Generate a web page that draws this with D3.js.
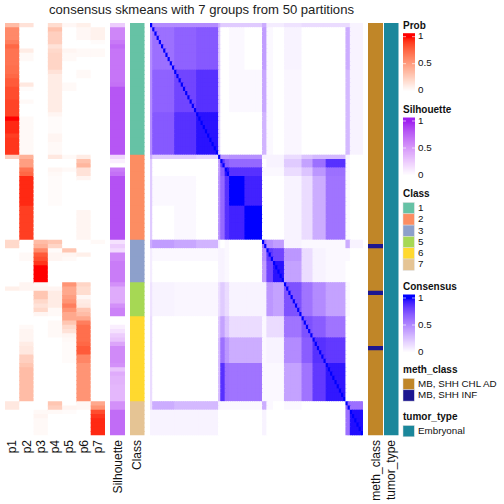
<!DOCTYPE html>
<html><head><meta charset="utf-8">
<script src="https://cdn.jsdelivr.net/npm/d3@7"></script>
<style>body{margin:0;background:#fff}svg{display:block}text{font-family:"Liberation Sans",Arial,sans-serif}</style>
</head><body>
<svg id="c" width="504" height="504"></svg>
<script>
// ---------------- data ----------------
const classNames = ["1","2","3","5","6","7"];
const classSizes = [31,20,10,8,20,8];
const classColors = ["#66C2A5","#FC8D62","#8DA0CB","#A6D854","#FFD92F","#E5C494"];
const probCols = ["p1","p2","p3","p4","p5","p6","p7"];
const p1 = [0.35,0.6,0.6,0.6,0.65,0.75,0.7,0.7,0.7,0.7,0.72,0.72,0.75,0.8,0.8,0.85,0.85,0.85,0.88,0.88,0.88,0.88,1,0.95,0.95,0.95,0.9,0.92,0.92,0.92,0.92,
 0.25,0,0,0,0,0,0,0,0,0,0,0,0,0,0,0,0,0,0,0,
 0.2,0.2,0,0,0,0,0,0,0,0,
 0,0.08,0,0,0,0,0,0,
 0,0,0,0,0,0,0,0,0,0,0,0,0,0,0,0,0,0,0,0,
 0.12,0.12,0,0,0,0,0,0];
const p2 = [0.15,0,0,0,0,0,0.1,0.03,0.03,0,0,0,0,0,0.12,0.02,0,0,0.03,0,0,0,0.03,0.03,0.03,0.03,0.03,0.03,0.03,0.03,0.03,
 0.4,0.5,0.5,0.7,0.75,0.95,0.95,0.95,0.95,0.95,0.95,0.95,0.9,0.9,0.9,0.9,0.9,0.9,0.9,0.9,
 0,0,0,0.03,0.03,0,0,0,0,0,
 0.05,0.05,0,0,0,0,0,0,
 0,0,0.03,0.05,0.05,0.05,0.1,0.12,0.12,0.25,0.25,0.3,0.35,0.35,0.35,0.35,0.35,0.35,0.35,0.35,
 0,0,0,0,0,0,0,0];
const p3 = [0,0,0,0,0,0,0,0,0,0,0,0,0,0,0,0,0,0,0,0,0,0,0,0,0,0,0,0,0,0,0,
 0,0,0,0,0,0,0,0,0,0,0,0,0,0,0,0,0,0,0,0,
 0.35,0.4,0.6,0.8,0.85,0.92,1,1,1,1,
 0.03,0.05,0.3,0.3,0.2,0.15,0.2,0.05,
 0,0,0,0,0,0,0,0,0,0,0,0,0,0,0,0,0,0,0,0,
 0,0,0.03,0.05,0.03,0.03,0.03,0.03];
const p4 = [0.18,0.32,0.25,0.25,0.25,0.15,0.2,0.22,0.22,0.22,0.22,0.15,0.1,0.1,0.1,0.1,0.1,0.1,0.1,0.1,0.1,0.05,0.02,0.02,0.02,0.02,0.05,0.05,0.03,0.03,0.03,
 0.12,0,0,0.05,0.03,0.02,0.02,0.02,0.02,0.02,0.02,0.02,0,0,0,0,0,0,0,0,
 0.3,0.22,0.02,0.05,0.05,0,0,0,0,0,
 0,0.05,0.1,0.1,0.1,0.1,0.03,0.03,
 0,0.03,0.03,0.03,0.03,0,0,0,0,0,0,0,0,0,0,0,0,0,0,0,
 0.3,0.25,0.03,0,0,0,0,0];
const p5 = [0.04,0,0,0,0,0,0.05,0.03,0.03,0,0,0,0,0,0.03,0.03,0,0,0,0,0,0,0,0,0,0,0,0,0,0,0,
 0.03,0,0,0.03,0,0,0,0,0,0,0,0,0,0,0,0,0,0,0,0,
 0,0,0.3,0.05,0.03,0,0,0,0,0,
 0.55,0.45,0.45,0.5,0.55,0.65,0.55,0.45,
 0.45,0.3,0.2,0.15,0.05,0.03,0.02,0.02,0.02,0.02,0.02,0,0,0,0,0,0,0,0,0,
 0,0.05,0.02,0,0,0,0,0];
const p6 = [0.08,0.04,0.04,0.04,0,0,0.03,0.03,0,0,0,0.03,0.03,0,0,0,0,0,0,0,0,0,0,0,0,0,0,0,0,0,0,
 0.1,0.32,0.38,0.15,0.15,0.05,0,0,0,0,0,0,0,0.05,0.05,0.05,0.05,0.05,0.05,0.05,
 0,0,0,0.08,0,0,0,0,0,0,
 0.22,0.18,0.18,0.04,0.1,0.12,0.3,0.35,
 0.45,0.65,0.72,0.72,0.72,0.72,0.75,0.8,0.8,0.62,0.62,0.55,0.55,0.55,0.55,0.55,0.55,0.55,0.55,0.55,
 0.04,0.04,0,0,0,0,0,0];
const p7 = [0,0.07,0.07,0.07,0.02,0,0.03,0.03,0,0,0,0,0,0,0,0,0,0,0,0,0,0,0,0,0,0,0,0,0,0,0,
 0,0,0,0,0,0,0,0,0,0,0,0,0,0,0,0,0,0,0,0,
 0.03,0,0,0,0,0,0,0,0,0,
 0,0,0,0,0,0,0,0,
 0,0,0,0,0,0,0,0,0,0,0,0,0,0,0,0,0,0,0,0,
 0.45,0.55,0.85,0.92,0.95,0.95,0.95,0.95];
const silhouette = [0.25,0.6,0.6,0.6,0.66,0.72,0.68,0.68,0.68,0.68,0.68,0.68,0.68,0.68,0.7,0.82,0.82,0.82,0.82,0.82,0.82,0.82,0.82,0.82,0.82,0.82,0.82,0.82,0.82,0.82,0.82,
 0.2,0.08,0,0.65,0.7,0.84,0.84,0.84,0.84,0.84,0.84,0.84,0.84,0.84,0.84,0.84,0.84,0.84,0.84,0.84,
 0.15,0.25,0.18,0.6,0.6,0.65,0.65,0.65,0.65,0.65,
 0.55,0.42,0.42,0.42,0.42,0.55,0.62,0.62,
 0,0,0.08,0.15,0.25,0.3,0.45,0.58,0.58,0.58,0.58,0.55,0.3,0.42,0.38,0.38,0.36,0.36,0.36,0.36,
 0.55,0.55,0.72,0.72,0.72,0.72,0.72,0.72];
// consensus: samples grouped into segments, segment-by-segment consensus
const segSizes = [1,10,10,10, 1,2,2,7,8, 2,3,5, 8, 5,6,9, 2,6];
const segConsensus = [
 [1.00,0.50,0.50,0.50,0.35,0.22,0.22,0.22,0.22,0.35,0.08,0.08,0.12,0.15,0.15,0.15,0.15,0.05],
 [0.50,0.62,0.68,0.72,0.22,0.00,0.00,0.03,0.00,0.42,0.03,0.00,0.05,0.00,0.00,0.00,0.35,0.05],
 [0.50,0.68,0.80,0.88,0.22,0.00,0.00,0.03,0.03,0.38,0.03,0.00,0.04,0.00,0.00,0.00,0.30,0.05],
 [0.50,0.72,0.88,0.97,0.18,0.00,0.00,0.00,0.00,0.32,0.03,0.00,0.04,0.00,0.00,0.00,0.30,0.05],
 [0.35,0.22,0.22,0.18,1.00,0.45,0.45,0.48,0.48,0.05,0.05,0.05,0.15,0.25,0.30,0.30,0.05,0.00],
 [0.22,0.00,0.00,0.00,0.45,0.85,0.70,0.65,0.65,0.00,0.05,0.05,0.22,0.40,0.62,0.88,0.03,0.00],
 [0.22,0.00,0.00,0.00,0.45,0.70,0.97,0.88,0.88,0.03,0.03,0.03,0.15,0.25,0.45,0.62,0.03,0.00],
 [0.22,0.03,0.03,0.00,0.48,0.65,0.88,1.00,0.93,0.00,0.00,0.00,0.05,0.15,0.35,0.60,0.03,0.00],
 [0.22,0.00,0.03,0.00,0.48,0.65,0.88,0.93,1.00,0.00,0.00,0.00,0.05,0.15,0.35,0.60,0.03,0.00],
 [0.35,0.42,0.38,0.32,0.05,0.00,0.03,0.00,0.00,0.60,0.48,0.42,0.05,0.03,0.03,0.03,0.35,0.05],
 [0.08,0.03,0.03,0.03,0.05,0.05,0.03,0.00,0.00,0.48,0.85,0.80,0.45,0.15,0.05,0.03,0.03,0.00],
 [0.08,0.00,0.00,0.00,0.05,0.05,0.03,0.00,0.00,0.42,0.80,0.97,0.40,0.15,0.05,0.03,0.00,0.00],
 [0.12,0.05,0.04,0.04,0.15,0.22,0.15,0.05,0.05,0.05,0.45,0.40,0.75,0.60,0.50,0.40,0.03,0.00],
 [0.15,0.00,0.00,0.00,0.25,0.40,0.25,0.15,0.15,0.03,0.15,0.15,0.60,0.75,0.70,0.60,0.00,0.00],
 [0.15,0.00,0.00,0.00,0.30,0.62,0.45,0.35,0.35,0.03,0.05,0.05,0.50,0.70,0.88,0.85,0.00,0.00],
 [0.15,0.00,0.00,0.00,0.30,0.88,0.62,0.60,0.60,0.03,0.03,0.03,0.40,0.60,0.85,0.96,0.00,0.00],
 [0.15,0.35,0.30,0.30,0.05,0.03,0.03,0.03,0.03,0.35,0.03,0.00,0.03,0.00,0.00,0.00,0.68,0.62],
 [0.05,0.05,0.05,0.05,0.00,0.00,0.00,0.00,0.00,0.05,0.00,0.00,0.00,0.00,0.00,0.00,0.62,0.98]];
const methLevels = ["MB, SHH CHL AD","MB, SHH INF"];
const methColors = ["#C08628","#1C1690"];
const methInfIdx = [52,63,76];
const tumorLevels = ["Embryonal"];
const tumorColors = ["#1B879B"];
const title = "consensus skmeans with 7 groups from 50 partitions";

// ---------------- colour interpolation in CIE Lab (D65), as colorRamp2 does ----------------
function toLin(c){c/=255;return c<=0.04045?c/12.92:Math.pow((c+0.055)/1.055,2.4);}
function fromLin(c){c=c<=0.0031308?12.92*c:1.055*Math.pow(c,1/2.4)-0.055;return Math.round(255*Math.max(0,Math.min(1,c)));}
const Wn=[0.95047,1,1.08883];
function fL(t){return t>0.008856?Math.cbrt(t):7.787*t+16/116;}
function fInv(t){const t3=t*t*t;return t3>0.008856?t3:(t-16/116)/7.787;}
function rgb2lab(hex){
  const c=d3.rgb(hex);const r=toLin(c.r),g=toLin(c.g),b=toLin(c.b);
  const X=0.4124564*r+0.3575761*g+0.1804375*b, Y=0.2126729*r+0.7151522*g+0.0721750*b, Z=0.0193339*r+0.1191920*g+0.9503041*b;
  const fx=fL(X/Wn[0]),fy=fL(Y/Wn[1]),fz=fL(Z/Wn[2]);
  return [116*fy-16,500*(fx-fy),200*(fy-fz)];
}
function lab2rgb(L,a,b){
  const fy=(L+16)/116,fx=fy+a/500,fz=fy-b/200;
  const X=Wn[0]*fInv(fx),Y=Wn[1]*fInv(fy),Z=Wn[2]*fInv(fz);
  const r=3.2404542*X-1.5371385*Y-0.4985314*Z, g=-0.9692660*X+1.8760108*Y+0.0415560*Z, bb=0.0556434*X-0.2040259*Y+1.0572252*Z;
  return d3.rgb(fromLin(r),fromLin(g),fromLin(bb)).formatHex();
}
function lab65(a,b){const A=rgb2lab(a),B=rgb2lab(b);return t=>lab2rgb(A[0]+(B[0]-A[0])*t,A[1]+(B[1]-A[1])*t,A[2]+(B[2]-A[2])*t);}

// ---------------- build ----------------
const N = d3.sum(classSizes);
const samples = d3.range(N);
const cls = []; classSizes.forEach((s,i)=>{for(let k=0;k<s;k++) cls.push(i);});
const seg = []; segSizes.forEach((s,i)=>{for(let k=0;k<s;k++) seg.push(i);});
const probs = [p1,p2,p3,p4,p5,p6,p7];
const meth = samples.map(i => methInfIdx.includes(i) ? 1 : 0);

const svg = d3.select("#c");
const hmTop = 23, hmBottom = 435.25;
const y = d3.scaleBand().domain(samples).range([hmTop,hmBottom]);
// cell height with overlap into the next row (avoids anti-aliasing seams), clipped at the bottom
const hh = i => Math.min(y.bandwidth()+1, hmBottom - y(i));
const colProb = d3.scaleLinear().domain([0,1]).range(["#ffffff","#ff0000"]).interpolate(lab65).clamp(true);
const colSil = d3.scaleLinear().domain([0,1]).range(["#ffffff","#A020F0"]).interpolate(lab65).clamp(true);
const colCons = d3.scaleLinear().domain([0,1]).range(["#ffffff","#0000ff"]).interpolate(lab65).clamp(true);

// prob heatmap
const xp = d3.scaleBand().domain(probCols).range([5,105]);
probCols.forEach((c,j)=>{
  svg.append("g").selectAll("rect").data(samples).join("rect")
   .attr("x",xp(c)).attr("width",j<6?xp.bandwidth()+1:xp.bandwidth())
   .attr("y",i=>y(i)).attr("height",hh)
   .attr("fill",i=>colProb(probs[j][i]));
});
// silhouette
svg.append("g").selectAll("rect").data(samples).join("rect")
  .attr("x",110).attr("width",15).attr("y",i=>y(i)).attr("height",hh)
  .attr("fill",i=>colSil(silhouette[i]));
// class
svg.append("g").selectAll("rect").data(samples).join("rect")
  .attr("x",130).attr("width",14.5).attr("y",i=>y(i)).attr("height",hh)
  .attr("fill",i=>classColors[cls[i]]);
// consensus
const xc = d3.scaleBand().domain(samples).range([150,363]);
const ww = j => Math.min(xc.bandwidth()+1, 363 - xc(j));
const cells = [];
samples.forEach(i=>samples.forEach(j=>cells.push([i,j])));
svg.append("g").selectAll("rect").data(cells).join("rect")
  .attr("x",d=>xc(d[1])).attr("width",d=>ww(d[1]))
  .attr("y",d=>y(d[0])).attr("height",d=>hh(d[0]))
  .attr("fill",d=>colCons(d[0]===d[1]?1:segConsensus[seg[d[0]]][seg[d[1]]]));
// meth_class
svg.append("g").selectAll("rect").data(samples).join("rect")
  .attr("x",368).attr("width",15).attr("y",i=>y(i)).attr("height",hh)
  .attr("fill",i=>methColors[meth[i]]);
// tumor_type
svg.append("rect").attr("x",384).attr("width",14.5).attr("y",hmTop).attr("height",hmBottom-hmTop).attr("fill",tumorColors[0]);

// title
svg.append("text").attr("x",201.5).attr("y",13.5).attr("text-anchor","middle").attr("font-size",13.1).attr("fill","#222").text(title);

// bottom labels
const botLabels = probCols.map(c=>({t:c,x:xp(c)+xp.bandwidth()/2}))
  .concat([{t:"Silhouette",x:117.5},{t:"Class",x:137},{t:"meth_class",x:375.5},{t:"tumor_type",x:391}]);
svg.append("g").selectAll("text").data(botLabels).join("text")
  .attr("transform",d=>`translate(${d.x+1},440) rotate(-90)`)
  .attr("text-anchor","end").attr("dominant-baseline","middle")
  .attr("font-size",12).attr("fill","#111").text(d=>d.t);

// legends
const lx = 403;
const lfs = 9.8, tfs = 10;
function colorLegend(t, tc, col){
  const g = svg.append("g");
  g.append("text").attr("x",lx).attr("y",tc+4).attr("font-size",tfs).attr("font-weight","bold").attr("fill","#111").text(t);
  const b0 = tc+8.5;
  const ys = d3.scaleLinear().domain([0,1]).range([tc+66,tc+12]);
  const steps = d3.range(0,1.0001,0.01);
  g.selectAll("rect").data(steps).join("rect").attr("x",lx).attr("width",12)
    .attr("y",v=>Math.max(b0, ys(v)-0.8)).attr("height",1.6).attr("fill",v=>col(v));
  g.append("rect").attr("x",lx).attr("width",12).attr("y",b0).attr("height",ys(1)-b0+0.5).attr("fill",col(1));
  [0,0.5,1].forEach(v=>{
    if(v>0){
      g.append("line").attr("x1",lx).attr("x2",lx+3).attr("y1",ys(v)).attr("y2",ys(v)).attr("stroke","#fff").attr("stroke-width",0.8).attr("opacity",0.8);
      g.append("line").attr("x1",lx+9).attr("x2",lx+12).attr("y1",ys(v)).attr("y2",ys(v)).attr("stroke","#fff").attr("stroke-width",0.8).attr("opacity",0.8);
    }
    g.append("text").attr("x",lx+15).attr("y",ys(v)).attr("dominant-baseline","middle").attr("font-size",lfs).attr("fill","#111").text(v===0.5?"0.5":String(v));
  });
}
colorLegend("Prob",24.7,colProb);
colorLegend("Silhouette",109,colSil);
colorLegend("Consensus",286,colCons);

function discLegend(t, tc, labels, colors){
  const g = svg.append("g");
  g.append("text").attr("x",lx).attr("y",tc+4).attr("font-size",tfs).attr("font-weight","bold").attr("fill","#111").text(t);
  labels.forEach((l,i)=>{
    const yy = tc+9.5+i*11.3;
    g.append("rect").attr("x",lx).attr("y",yy).attr("width",11.3).attr("height",11.3).attr("fill",colors[i]).attr("stroke","#ddd").attr("stroke-width",0.5);
    g.append("text").attr("x",lx+15).attr("y",yy+5.9).attr("dominant-baseline","middle").attr("font-size",lfs).attr("fill","#111").text(l);
  });
}
discLegend("Class",193,classNames,classColors);
discLegend("meth_class",369,methLevels,methColors);
discLegend("tumor_type",416,tumorLevels,tumorColors);
</script>
</body></html>
